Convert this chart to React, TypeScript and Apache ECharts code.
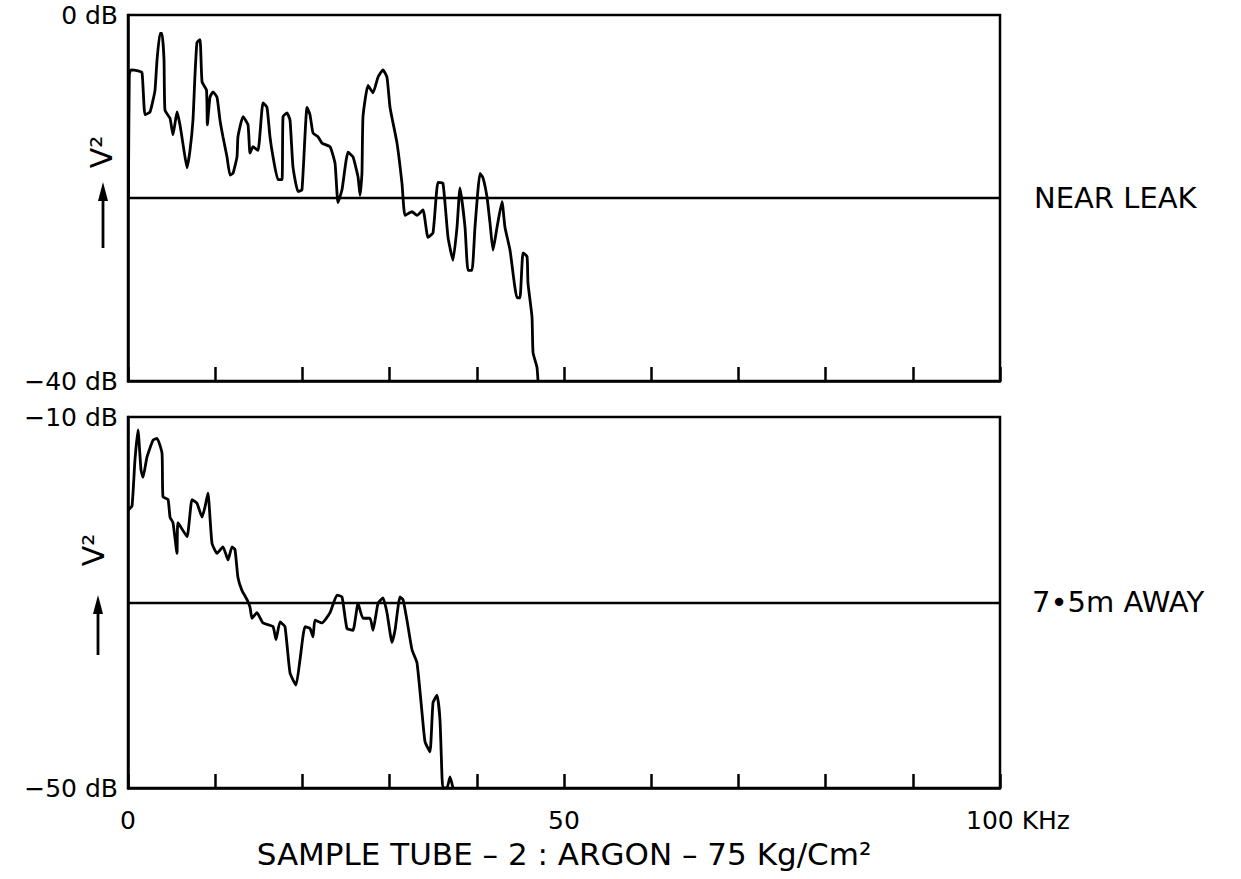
import React, { useEffect, useRef } from "react";
import * as echarts from "echarts";

// ---- data ----
const xTicksMax = 100;
const topFreq = [0.05, 0.15, 0.34, 1.15, 1.61, 1.95, 2.52, 2.87, 3.1, 3.33, 3.67, 3.9, 4.13, 4.24, 4.82, 5.16, 5.62, 5.96, 6.42, 6.77, 7.11, 7.45, 7.68, 7.91, 8.26, 8.49, 9.0, 9.1, 9.4, 9.75, 10.21, 10.55, 10.89, 11.35, 11.7, 12.04, 12.5, 12.61, 13.19, 13.76, 13.99, 14.33, 14.91, 15.48, 15.94, 16.28, 16.63, 17.2, 17.66, 17.78, 18.23, 18.58, 18.92, 19.5, 19.95, 20.53, 20.87, 21.22, 21.79, 22.25, 23.17, 23.74, 24.08, 24.54, 25.23, 25.8, 26.38, 26.61, 26.83, 26.95, 27.52, 28.1, 28.67, 29.24, 29.7, 30.05, 30.85, 31.42, 31.77, 32.57, 33.14, 33.83, 34.4, 34.98, 35.55, 36.12, 36.7, 37.27, 37.73, 38.07, 38.65, 38.99, 39.45, 39.79, 40.37, 40.71, 41.17, 41.51, 41.86, 42.32, 42.89, 43.23, 43.81, 44.61, 44.95, 45.3, 45.76, 45.87, 46.33, 46.45, 46.9, 47.02];
const topLevel = [-20, -6.5, -6.0, -6.1, -6.3, -10.9, -10.6, -9.3, -8.2, -4.9, -2.0, -2.0, -4.9, -10.4, -11.3, -13.1, -10.6, -12.0, -14.8, -16.7, -14.8, -11.5, -6.6, -3.0, -2.7, -7.3, -8.2, -12.0, -9.0, -8.4, -9.0, -11.5, -13.3, -15.5, -17.5, -17.3, -15.5, -13.3, -11.1, -12.0, -15.1, -14.4, -14.8, -9.6, -10.1, -13.3, -15.5, -18.0, -18.0, -11.1, -10.7, -11.5, -16.6, -19.3, -19.1, -10.1, -10.9, -12.9, -13.3, -14.0, -14.4, -16.2, -20.5, -19.1, -15.0, -15.5, -17.7, -19.7, -17.3, -11.1, -7.7, -8.5, -6.8, -6.0, -6.8, -10.1, -14.0, -18.4, -21.9, -21.5, -21.9, -21.3, -24.3, -23.8, -18.3, -18.4, -24.3, -26.8, -23.2, -18.9, -23.2, -27.9, -27.9, -23.2, -17.3, -17.8, -19.9, -22.7, -25.7, -23.2, -20.4, -23.2, -25.7, -30.9, -30.9, -26.0, -26.4, -29.3, -33.0, -36.9, -38.5, -40.0];

const bottomFreq = [0.05, 0.46, 0.8, 1.15, 1.49, 1.72, 2.18, 2.87, 3.33, 3.9, 4.01, 4.59, 4.82, 5.16, 5.62, 5.73, 6.77, 7.34, 7.91, 8.49, 8.83, 9.17, 9.63, 10.21, 10.89, 11.47, 11.93, 12.27, 12.61, 13.07, 13.65, 13.99, 14.22, 14.79, 15.48, 16.63, 16.97, 17.43, 18.0, 18.58, 19.27, 19.72, 20.3, 20.87, 21.22, 21.44, 22.25, 23.17, 23.97, 24.54, 25.11, 25.8, 26.38, 26.95, 27.75, 28.1, 28.67, 29.24, 29.7, 30.28, 30.62, 31.19, 31.54, 31.99, 32.57, 33.14, 33.72, 34.06, 34.63, 34.98, 35.44, 35.78, 36.01, 36.12, 36.58, 36.93, 37.27];
const bottomLevel = [-20.0, -19.6, -14.6, -11.4, -15.7, -16.5, -14.3, -12.5, -12.3, -13.9, -18.6, -18.9, -20.8, -21.4, -24.7, -21.4, -22.9, -18.9, -19.3, -20.8, -19.7, -18.2, -23.6, -24.7, -24.0, -25.4, -24.0, -24.3, -27.3, -28.7, -29.7, -30.5, -31.7, -31.1, -32.2, -32.6, -34.0, -32.1, -32.6, -37.6, -38.9, -36.2, -32.6, -32.8, -33.7, -31.9, -32.2, -31.1, -29.2, -29.4, -32.8, -33.0, -30.1, -31.7, -31.7, -33.0, -30.1, -29.5, -31.1, -34.3, -33.0, -29.4, -29.7, -31.9, -35.1, -36.5, -41.9, -45.0, -46.1, -40.8, -40.0, -42.7, -48.8, -50, -50, -48.8, -50];

const topRange = [-40, 0];
const bottomRange = [-50, -10];
const topReference = -20;
const bottomReference = -30;
const topPanelLabel = "NEAR LEAK";
const bottomPanelLabel = "7•5m AWAY";
const xTitle = "SAMPLE TUBE – 2 : ARGON – 75 Kg/Cm²";

const FONT = "DejaVu Sans";

export default function App() {
  const ref = useRef<HTMLDivElement>(null);
  useEffect(() => {
    if (!ref.current) return;
    const chart = echarts.init(ref.current, undefined, { renderer: "svg" });
    const pairs = (xs: number[], ys: number[]) => xs.map((x, i) => [x, ys[i]]);
    const lineStyle = { color: "#000", width: 2.8 };
    const xAxisBase = {
      type: "value" as const,
      min: 0,
      max: xTicksMax,
      interval: 10,
      position: "bottom" as const,
      axisLine: { show: true, onZero: false, lineStyle: { color: "#000", width: 2.5 } },
      axisTick: { show: true, inside: true, length: 14, lineStyle: { color: "#000", width: 2.5 } },
      splitLine: { show: false },
    };
    const yLabel = (v: number, r: number[]) =>
      v === r[0] || v === r[1] ? `${v < 0 ? "−" + Math.abs(v) : v} dB` : "";
    const yAxisBase = (r: number[]) => ({
      type: "value" as const,
      min: r[0],
      max: r[1],
      interval: 10,
      axisLine: { show: true, onZero: false, lineStyle: { color: "#000", width: 2.5 } },
      axisTick: { show: false },
      splitLine: { show: false },
      axisLabel: {
        formatter: (v: number) => yLabel(v, r),
        color: "#000",
        fontFamily: FONT,
        fontSize: 25,
        margin: 10,
      },
    });
    const arrow = (x: number, top: number, bottom: number) => [
      { type: "line", shape: { x1: x, y1: top + 12, x2: x, y2: bottom }, style: { stroke: "#000", lineWidth: 2.8 } },
      { type: "polygon", shape: { points: [[x - 5, top + 19], [x + 5, top + 19], [x, top]] }, style: { fill: "#000" } },
    ];
    chart.setOption({
      animation: false,
      backgroundColor: "#fff",
      grid: [
        { left: 128, top: 15, width: 872, height: 366, show: true, borderColor: "#000", borderWidth: 2.5, backgroundColor: "transparent" },
        { left: 128, top: 417, width: 872, height: 371, show: true, borderColor: "#000", borderWidth: 2.5, backgroundColor: "transparent" },
      ],
      xAxis: [
        { ...xAxisBase, gridIndex: 0, axisLabel: { show: false } },
        {
          ...xAxisBase,
          gridIndex: 1,
          axisLabel: {
            color: "#000",
            fontFamily: FONT,
            fontSize: 25,
            margin: 20,
            formatter: (v: number) => (v === 0 ? "0" : v === 50 ? "50" : v === 100 ? "{m|100 KHz}" : ""),
            rich: { m: { fontFamily: FONT, fontSize: 25, color: "#000", padding: [0, 0, 0, 36] } },
          },
          name: xTitle,
          nameLocation: "middle",
          nameGap: 50,
          nameTextStyle: { color: "#000", fontFamily: FONT, fontSize: 31 },
        },
      ],
      yAxis: [
        { ...yAxisBase(topRange), gridIndex: 0 },
        { ...yAxisBase(bottomRange), gridIndex: 1 },
      ],
      series: [
        {
          type: "line",
          xAxisIndex: 0,
          yAxisIndex: 0,
          data: pairs(topFreq, topLevel),
          symbol: "none",
          smooth: 0.15,
          lineStyle,
          markLine: {
            silent: true,
            symbol: "none",
            label: { show: false },
            lineStyle: { color: "#000", width: 2.4, type: "solid" },
            data: [{ yAxis: topReference }],
          },
        },
        {
          type: "line",
          xAxisIndex: 1,
          yAxisIndex: 1,
          data: pairs(bottomFreq, bottomLevel),
          symbol: "none",
          smooth: 0.15,
          lineStyle,
          markLine: {
            silent: true,
            symbol: "none",
            label: { show: false },
            lineStyle: { color: "#000", width: 2.4, type: "solid" },
            data: [{ yAxis: bottomReference }],
          },
        },
      ],
      graphic: [
        { type: "text", x: 1034, y: 198, style: { text: topPanelLabel, fill: "#000", font: `29px "${FONT}"`, textVerticalAlign: "middle" } },
        { type: "text", x: 1032, y: 602, style: { text: bottomPanelLabel, fill: "#000", font: `29px "${FONT}"`, textVerticalAlign: "middle" } },
        { type: "text", x: 101, y: 152, rotation: Math.PI / 2, style: { text: "V²", fill: "#000", font: `30px "${FONT}"`, textAlign: "center", textVerticalAlign: "middle" } },
        { type: "text", x: 93, y: 550, rotation: Math.PI / 2, style: { text: "V²", fill: "#000", font: `30px "${FONT}"`, textAlign: "center", textVerticalAlign: "middle" } },
        ...arrow(103, 182, 248),
        ...arrow(98, 595, 655),
      ],
    });
    return () => chart.dispose();
  }, []);
  return <div ref={ref} style={{ position: "fixed", left: 0, top: 0, width: 1241, height: 879 }} />;
}
